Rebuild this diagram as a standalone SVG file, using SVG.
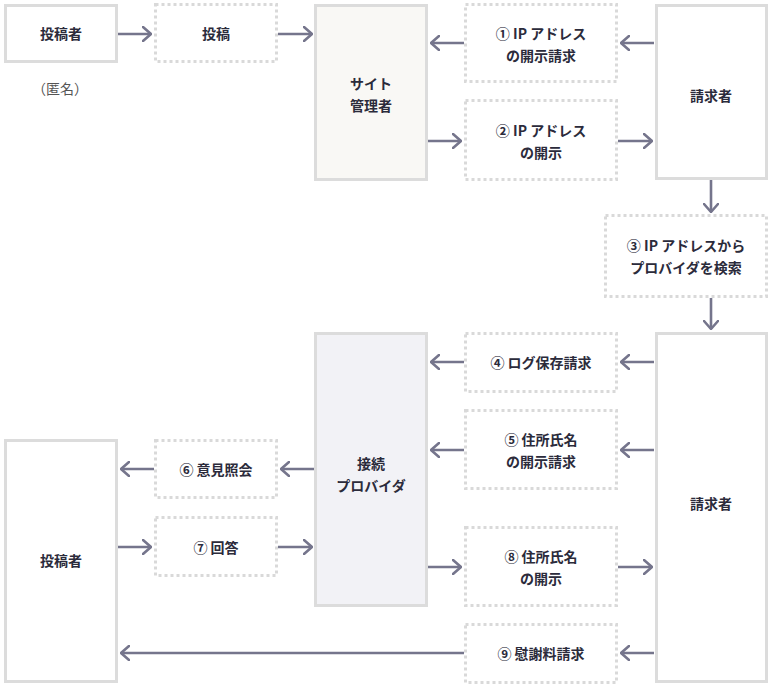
<svg xmlns="http://www.w3.org/2000/svg" width="775" height="690" viewBox="0 0 775 690">
<defs>
<marker id="ah" viewBox="0 0 10 16" refX="9" refY="8" markerWidth="10" markerHeight="16" markerUnits="userSpaceOnUse" orient="auto">
<path d="M1,1 L9,8 L1,15" fill="none" stroke="#75758c" stroke-width="2.6" stroke-linecap="round" stroke-linejoin="round"/>
</marker>
</defs>
<style>
.box{fill:#fff;stroke:#dcdcdc;stroke-width:3}
.dash{fill:#fff;stroke:#d9d9d9;stroke-width:3;stroke-dasharray:3 3}
.site{fill:#f9f8f5;stroke:#dcdcdc;stroke-width:3}
.prov{fill:#f2f2f6;stroke:#dcdcdc;stroke-width:3}
text{font-family:"Noto Sans CJK JP","Noto Sans",sans-serif;font-size:14px;font-weight:bold;fill:#2b2b3b;text-anchor:middle;dominant-baseline:central}
.note{font-weight:normal;fill:#555}
.c line{stroke:#75758c;stroke-width:2.6;marker-end:url(#ah)}
</style>
<rect width="775" height="690" fill="#fff"/>
<g id="poster-top"><rect class="box" x="5.5" y="5.5" width="111" height="56"/><text x="61" y="33">投稿者</text><text class="note" x="60" y="88">（匿名）</text></g>
<g id="post"><rect class="dash" x="155.5" y="4.5" width="121" height="57"/><text x="216" y="33">投稿</text></g>
<g id="site-admin"><rect class="site" x="315.5" y="5.5" width="111" height="174"/><text x="371" y="83">サイト</text><text x="371" y="105">管理者</text></g>
<g id="step1"><rect class="dash" x="465.5" y="4.5" width="151" height="77"/><text x="541" y="33">① IP アドレス</text><text x="541" y="55">の開示請求</text></g>
<g id="step2"><rect class="dash" x="465.5" y="100.5" width="151" height="79"/><text x="541" y="130">② IP アドレス</text><text x="541" y="152">の開示</text></g>
<g id="claimant-top"><rect class="box" x="656.5" y="5.5" width="110" height="173"/><text x="711" y="95">請求者</text></g>
<g id="step3"><rect class="dash" x="605.5" y="215.5" width="161" height="81"/><text x="686" y="245">③ IP アドレスから</text><text x="686" y="267">プロバイダを検索</text></g>
<g id="claimant-bottom"><rect class="box" x="656.5" y="333.5" width="110" height="348"/><text x="711" y="503">請求者</text></g>
<g id="step4"><rect class="dash" x="465.5" y="333.5" width="151" height="58"/><text x="541" y="362">④ ログ保存請求</text></g>
<g id="step5"><rect class="dash" x="465.5" y="410.5" width="151" height="78"/><text x="541" y="439">⑤ 住所氏名</text><text x="541" y="461">の開示請求</text></g>
<g id="step8"><rect class="dash" x="465.5" y="527.5" width="151" height="78"/><text x="541" y="556">⑧ 住所氏名</text><text x="541" y="578">の開示</text></g>
<g id="step9"><rect class="dash" x="465.5" y="624.5" width="151" height="58"/><text x="541" y="653">⑨ 慰謝料請求</text></g>
<g id="provider"><rect class="prov" x="315.5" y="333.5" width="111" height="272"/><text x="371" y="463">接続</text><text x="371" y="485">プロバイダ</text></g>
<g id="step6"><rect class="dash" x="155.5" y="440.5" width="121" height="57"/><text x="216" y="469">⑥ 意見照会</text></g>
<g id="step7"><rect class="dash" x="155.5" y="517.5" width="121" height="58"/><text x="216" y="547">⑦ 回答</text></g>
<g id="poster-bottom"><rect class="box" x="5.5" y="440.5" width="111" height="241"/><text x="61" y="560">投稿者</text></g>
<g id="connectors" class="c">
<line x1="118" y1="34" x2="151" y2="34"/>
<line x1="278" y1="34" x2="312" y2="34"/>
<line x1="464" y1="43" x2="431" y2="43"/>
<line x1="654" y1="43" x2="621" y2="43"/>
<line x1="428" y1="141" x2="461" y2="141"/>
<line x1="618" y1="141" x2="652" y2="141"/>
<line x1="711" y1="180" x2="711" y2="212"/>
<line x1="711" y1="298" x2="711" y2="329"/>
<line x1="654" y1="362" x2="621" y2="362"/>
<line x1="464" y1="362" x2="431" y2="362"/>
<line x1="654" y1="450" x2="621" y2="450"/>
<line x1="464" y1="450" x2="431" y2="450"/>
<line x1="314" y1="469" x2="281" y2="469"/>
<line x1="154" y1="469" x2="121" y2="469"/>
<line x1="118" y1="547" x2="151" y2="547"/>
<line x1="278" y1="547" x2="312" y2="547"/>
<line x1="428" y1="567" x2="461" y2="567"/>
<line x1="618" y1="567" x2="652" y2="567"/>
<line x1="654" y1="653" x2="621" y2="653"/>
<line x1="464" y1="653" x2="121" y2="653"/>
</g>
</svg>
